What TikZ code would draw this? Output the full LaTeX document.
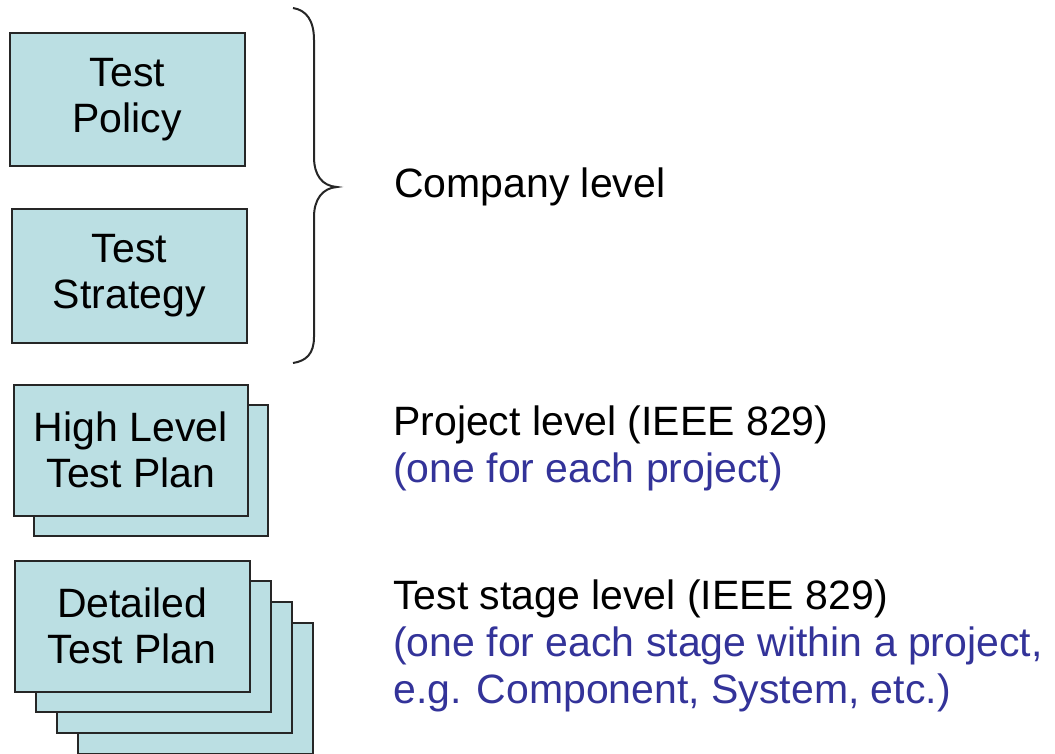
\documentclass[tikz,border=0pt]{standalone}
\usepackage{fontspec}
\setmainfont{Liberation Sans}
\definecolor{boxfill}{HTML}{BBDFE3}
\definecolor{notecol}{HTML}{333399}
\begin{document}
\begin{tikzpicture}[x=1pt,y=-1pt,
  docbox/.style={draw=black!85, line width=1.6pt, fill=boxfill, anchor=north west,
    minimum width=234pt, minimum height=131pt, align=center, inner sep=0pt,
    font=\fontsize{41}{46}\selectfont},
  lbl/.style={anchor=base west, inner sep=0pt, font=\fontsize{41}{47}\selectfont},
  note/.style={lbl, text=notecol},
  bracestyle/.style={draw=black!85, line width=2pt}]
\useasboundingbox (0,0) rectangle (1055,753);
% company level
\node[docbox, minimum width=235pt, minimum height=133pt] (policy) at (9,32) {Test\\Policy};
\node[docbox, minimum width=235pt, minimum height=134pt] (strategy) at (11,208) {Test\\Strategy};
\path[bracestyle] (293,8) .. controls (306,10) and (314,20) .. (314,40) -- (314,157)
  .. controls (314,175) and (322,186) .. (337,187)
  .. controls (322,188) and (314,200) .. (314,217) -- (314,337)
  .. controls (314,354) and (306,361) .. (293,363);
\node[lbl] (company) at (394,197) {Company level};
% project level
\node[docbox] (hltpback) at (33,404) {};
\node[docbox] (hltp) at (13,384) {High Level\\Test Plan};
\node[lbl] (project) at (393,435) {Project level (IEEE 829)};
\node[note] (projectnote) at (393,482) {(one for each project)};
% test stage level
\node[docbox, minimum width=235pt] (dtp4) at (77,622) {};
\node[docbox, minimum width=235pt] (dtp3) at (56,601) {};
\node[docbox, minimum width=235pt] (dtp2) at (35,580) {};
\node[docbox, minimum width=235pt] (dtp) at (14,560) {Detailed\\Test Plan};
\node[lbl] (stage) at (393,609) {Test stage level (IEEE 829)};
\node[note] (stagenote1) at (393,656) {(one for each stage within a project,};
\node[note] (stagenote2) at (393,703) {e.g. Component, System, etc.)};
\end{tikzpicture}
\end{document}
